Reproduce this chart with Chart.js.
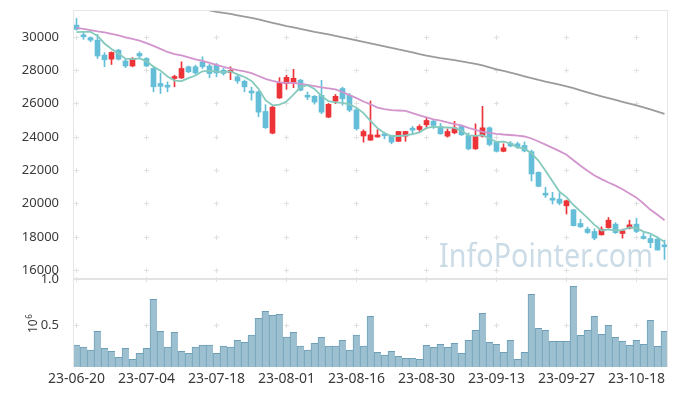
<!DOCTYPE html>
<html><head><meta charset="utf-8">
<script src="https://cdn.jsdelivr.net/npm/chart.js@4/dist/chart.umd.min.js"></script>
<style>
html,body{margin:0;padding:0;background:#fff;}
#wrap{position:relative;width:677px;height:396px;overflow:hidden;background:#fff;}
#price{position:absolute;left:0;top:0;}
#vol{position:absolute;left:0;top:260px;}
</style></head><body>
<div id="wrap"><canvas id="vol" width="677" height="136"></canvas><canvas id="price" width="677" height="280"></canvas></div>
<script>
const dates = ['23-06-20','23-06-21','23-06-22','23-06-23','23-06-26','23-06-27','23-06-28','23-06-29','23-06-30',
'23-07-03','23-07-04','23-07-05','23-07-06','23-07-07','23-07-10','23-07-11','23-07-12','23-07-13','23-07-14','23-07-17','23-07-18','23-07-19','23-07-20','23-07-21','23-07-24','23-07-25','23-07-26','23-07-27','23-07-28','23-07-31',
'23-08-01','23-08-02','23-08-03','23-08-04','23-08-07','23-08-08','23-08-09','23-08-10','23-08-11','23-08-14','23-08-16','23-08-17','23-08-18','23-08-21','23-08-22','23-08-23','23-08-24','23-08-25','23-08-28','23-08-29','23-08-30','23-08-31',
'23-09-01','23-09-04','23-09-05','23-09-06','23-09-07','23-09-08','23-09-11','23-09-12','23-09-13','23-09-14','23-09-15','23-09-18','23-09-19','23-09-20','23-09-21','23-09-22','23-09-25','23-09-26','23-09-27',
'23-10-04','23-10-05','23-10-06','23-10-10','23-10-11','23-10-12','23-10-13','23-10-16','23-10-17','23-10-18','23-10-19','23-10-20','23-10-23','23-10-24'];

const openP  = [30700,30100,29950,29800,28900,28660,29200,28550,28250,29000,28700,28100,27200,27100,27500,27530,28200,28200,28500,28250,28300,28000,27860,27600,27330,26750,26700,25520,24220,26330,27190,27270,27400,26500,26430,26490,25180,26140,26900,26500,25620,24050,23800,23990,24120,24080,23730,24040,24520,24440,24720,24940,24620,24040,24240,24620,24080,23280,24040,24540,23670,23130,23620,23580,23480,23110,21870,20560,20260,20260,19860,19620,18800,18460,18320,18120,18550,18760,18200,18520,18760,18000,17900,17860,17450];
const highP  = [31100,30300,30000,30150,29050,29100,29250,28700,28750,29100,28750,28200,27830,27300,27700,28500,28250,28300,28800,28350,28400,28100,28200,27700,27400,26980,26750,25930,25850,27550,27700,28050,27450,26690,26480,27390,26000,26540,26980,26600,25700,24420,26150,24430,24280,24100,24330,24330,24620,24720,25180,25050,24800,24470,24930,24700,24230,24780,25830,24600,23700,23580,23720,23680,23690,23200,21900,20970,20670,20630,20200,19650,19060,18580,18480,18600,19160,18850,18460,19000,19120,18250,18100,18000,17800];
const lowP   = [30400,29850,29700,28700,28200,28340,28600,28150,28200,28750,28200,26700,26600,26700,27000,27500,27850,27750,28100,27550,27600,27700,27430,27200,26700,26200,25200,24500,24180,26300,26850,26950,26750,26230,25960,25390,25150,25990,25900,25500,24400,23680,23780,23970,23880,23580,23720,23730,24120,24300,24480,24500,24150,23980,24180,24080,23220,23240,23980,23450,23080,23100,23400,23300,23100,21350,21000,20360,19970,19920,19370,18650,18560,18200,17820,18100,18520,18200,17920,18470,18250,17860,17350,17200,16650];
const closeP = [30450,30000,29800,28850,28620,29060,28660,28250,28700,28850,28250,27000,27030,26980,27600,28100,27900,27830,28200,27800,27830,27800,27950,27350,27000,26630,25480,24550,25780,27230,27570,27510,26800,26380,26080,25480,25950,26430,26280,25600,24480,24320,24120,24080,24060,23680,24320,24320,24400,24620,24980,24680,24180,24320,24540,24120,23280,24020,24540,23540,23130,23340,23450,23380,23150,21770,21030,20500,20200,20020,20160,18670,18600,18260,17920,18460,19000,18250,18360,18720,18320,17900,17650,17210,17400];

const maShort = [30280,30290,30300,30050,29600,29270,29000,28690,28660,28700,28540,28210,27970,27620,27370,27340,27520,27680,27930,27970,27910,27890,27920,27750,27590,27350,26880,26200,25890,25930,26120,26530,26980,27100,26870,26450,26140,26060,26040,25950,25750,25420,24960,24520,24210,24050,24050,24090,24160,24270,24530,24600,24570,24560,24540,24370,24090,24060,24100,23900,23700,23710,23600,23370,23290,23020,22560,21970,21330,20700,20380,19910,19530,19140,18720,18380,18450,18380,18400,18560,18530,18310,18190,17960,17700];
const maMid = [30540,30470,30400,30320,30260,30180,30080,29970,29870,29770,29620,29460,29280,29090,28960,28880,28770,28640,28560,28440,28310,28190,28090,28000,27930,27820,27650,27480,27360,27260,27240,27230,27180,27110,27040,26960,26900,26840,26690,26500,26320,26120,25950,25750,25660,25600,25580,25560,25420,25290,25160,25050,24970,24860,24760,24680,24540,24420,24300,24230,24180,24140,24110,24070,24020,23900,23720,23530,23340,23140,22920,22590,22260,21960,21680,21460,21260,21070,20850,20600,20350,20000,19620,19320,18990];
const maLong = [null,null,null,null,null,null,null,null,null,null,null,null,null,null,null,null,31800,31730,31660,31580,31500,31440,31370,31290,31210,31130,31040,30940,30840,30740,30640,30560,30470,30390,30300,30220,30140,30050,29970,29880,29790,29700,29610,29520,29430,29340,29240,29150,29060,28960,28870,28790,28720,28660,28600,28530,28450,28380,28290,28160,28050,27950,27850,27740,27630,27520,27410,27310,27220,27130,27030,26920,26790,26660,26540,26430,26320,26210,26100,25990,25880,25760,25640,25510,25380];

const volumeM = [0.287,0.266,0.233,0.435,0.251,0.219,0.154,0.251,0.132,0.197,0.251,0.780,0.435,0.266,0.424,0.219,0.197,0.266,0.287,0.287,0.197,0.276,0.266,0.338,0.316,0.395,0.576,0.651,0.607,0.618,0.374,0.424,0.276,0.233,0.305,0.370,0.276,0.276,0.338,0.233,0.395,0.276,0.596,0.208,0.179,0.219,0.165,0.144,0.144,0.132,0.284,0.262,0.294,0.262,0.305,0.197,0.338,0.446,0.629,0.316,0.294,0.208,0.338,0.132,0.208,0.834,0.467,0.446,0.327,0.327,0.327,0.921,0.392,0.446,0.596,0.402,0.500,0.370,0.327,0.284,0.338,0.294,0.553,0.273,0.435];

const priceTicks = [16000,18000,20000,22000,24000,26000,28000,30000];
const volTicks = [0.5,1.0];
const dateLabelEvery = 10;

const FONT = '"Noto Sans", "DejaVu Sans", sans-serif';
const UP = '#ec3338', DOWN = '#64bed7';
const candleColors = closeP.map((c,i)=> c >= openP[i] ? UP : DOWN);
const bodies = openP.map((o,i)=>[o, closeP[i]]);
const wicks = lowP.map((l,i)=>[l, highP[i]]);
const gridIdx = dates.map((d,i)=>i).filter(i=> i % dateLabelEvery === 0);

function drawCross(ctx, x, y){
  ctx.beginPath();
  ctx.moveTo(x-2.5, y); ctx.lineTo(x+2.5, y);
  ctx.moveTo(x, y-2.5); ctx.lineTo(x, y+2.5);
  ctx.stroke();
}

const pricePlugin = {
  id: 'pricePlugin',
  beforeDatasetsDraw(chart){
    const {ctx, chartArea:a, scales:{x, y}} = chart;
    ctx.save();
    ctx.font = '33px ' + FONT;
    ctx.fillStyle = '#cbdce7';
    ctx.textBaseline = 'alphabetic';
    const txt = 'InfoPointer.com';
    const w = ctx.measureText(txt).width;
    ctx.translate(439, 267);
    ctx.scale(214 / w, 1);
    ctx.fillText(txt, 0, 0);
    ctx.restore();
    ctx.save();
    ctx.strokeStyle = '#e0e0e0';
    ctx.lineWidth = 1;
    gridIdx.forEach(i=>{
      const px = Math.floor(x.getPixelForValue(i)) + 0.5;
      priceTicks.forEach(v=>{
        const py = Math.round(y.getPixelForValue(v)) + 0.5;
        drawCross(ctx, px, py);
      });
    });
    ctx.restore();
  },
  afterDraw(chart){
    const {ctx, chartArea:a} = chart;
    ctx.save();
    ctx.strokeStyle = '#e6e6e6';
    ctx.lineWidth = 1;
    ctx.beginPath();
    ctx.moveTo(a.left, a.top + 0.5); ctx.lineTo(a.right, a.top + 0.5);
    ctx.moveTo(a.left + 0.5, a.top); ctx.lineTo(a.left + 0.5, a.bottom);
    ctx.moveTo(a.right - 0.5, a.top); ctx.lineTo(a.right - 0.5, a.bottom);
    ctx.stroke();
    ctx.fillStyle = '#e3e3e3';
    ctx.fillRect(a.left, a.bottom - 2, a.right - a.left, 2);
    ctx.restore();
  }
};

const volPlugin = {
  id: 'volPlugin',
  beforeDatasetsDraw(chart){
    const {ctx, scales:{x, y}} = chart;
    ctx.save();
    ctx.strokeStyle = '#e0e0e0';
    ctx.lineWidth = 1;
    gridIdx.forEach(i=>{
      const px = Math.floor(x.getPixelForValue(i)) + 0.5;
      volTicks.forEach(v=>{
        const py = Math.round(y.getPixelForValue(v)) + 0.5;
        drawCross(ctx, px, py);
      });
    });
    ctx.restore();
  },
  afterDraw(chart){
    const {ctx, chartArea:a} = chart;
    ctx.save();
    ctx.strokeStyle = '#e6e6e6';
    ctx.lineWidth = 1;
    ctx.beginPath();
    ctx.moveTo(a.left + 0.5, a.top); ctx.lineTo(a.left + 0.5, a.bottom);
    ctx.moveTo(a.right - 0.5, a.top); ctx.lineTo(a.right - 0.5, a.bottom);
    ctx.stroke();
    ctx.fillStyle = '#3a3a3a';
    ctx.translate(37, 66);
    ctx.rotate(-Math.PI/2);
    ctx.textBaseline = 'alphabetic';
    ctx.textAlign = 'left';
    ctx.font = '12px ' + FONT;
    ctx.fillText('10', -7, 0);
    const w10 = ctx.measureText('10').width;
    ctx.font = '8px ' + FONT;
    ctx.fillText('6', -7 + w10 + 0.5, -5);
    ctx.restore();
  }
};

Chart.defaults.font.family = FONT;

new Chart(document.getElementById('price'), {
  type: 'bar',
  data: {
    labels: dates,
    datasets: [
      {type:'line', data: maShort, borderColor:'#86cabe', borderWidth:1.8, pointRadius:0, tension:0, order:0},
      {type:'line', data: maMid, borderColor:'#d294cd', borderWidth:1.8, pointRadius:0, tension:0, order:0},
      {type:'line', data: maLong, borderColor:'#9b9b9b', borderWidth:1.8, pointRadius:0, tension:0, order:0, clip:0},
      {type:'bar', data: bodies, backgroundColor: candleColors, barThickness:5, grouped:false, minBarLength:2, borderWidth:0, order:1},
      {type:'bar', data: wicks, backgroundColor: candleColors, barThickness:1, grouped:false, borderWidth:0, order:2}
    ]
  },
  options: {
    responsive:false, animation:false, devicePixelRatio:1,
    layout:{padding:{top:10, right:9, bottom:0, left:0}},
    plugins:{legend:{display:false}, tooltip:{enabled:false}},
    scales:{
      x:{type:'category', offset:true, ticks:{display:false}, grid:{display:false}, border:{display:false},
         afterFit:s=>{s.height=0; s.paddingLeft=0; s.paddingRight=0;}},
      y:{min:15410, max:31608,
         afterBuildTicks:s=>{s.ticks = priceTicks.map(v=>({value:v}));},
         afterFit:s=>{s.width=73; s.paddingTop=0; s.paddingBottom=0;},
         ticks:{callback:v=>String(v), font:{size:13, family:FONT}, color:'#3a3a3a', padding:6},
         grid:{display:false}, border:{display:false}}
    }
  },
  plugins:[pricePlugin]
});

new Chart(document.getElementById('vol'), {
  type: 'bar',
  data: {
    labels: dates,
    datasets: [{data: volumeM, backgroundColor:'#9cc0d0', borderColor:'#6e9fb8',
      borderWidth:{top:1, left:1, right:0, bottom:0}, borderSkipped:false,
      barPercentage:1, categoryPercentage:1}]
  },
  options: {
    responsive:false, animation:false, devicePixelRatio:1,
    layout:{padding:{top:19, right:9, bottom:0, left:0}},
    plugins:{legend:{display:false}, tooltip:{enabled:false}},
    scales:{
      x:{type:'category', offset:true,
         ticks:{autoSkip:false, maxRotation:0, minRotation:0, font:{size:14, family:FONT}, color:'#3a3a3a', padding:-4,
                callback:(v,i)=> (i % dateLabelEvery === 0 ? dates[i] : '')},
         grid:{display:false}, border:{display:false},
         afterFit:s=>{s.height=29; s.paddingLeft=0; s.paddingRight=0;}},
      y:{min:0.05, max:1.0,
         afterBuildTicks:s=>{s.ticks = volTicks.map(v=>({value:v}));},
         afterFit:s=>{s.width=73; s.paddingTop=0; s.paddingBottom=0;},
         ticks:{callback:v=>Number(v).toFixed(1), font:{size:13, family:FONT}, color:'#3a3a3a', padding:6},
         grid:{display:false}, border:{display:false}}
    }
  },
  plugins:[volPlugin]
});
</script>
</body></html>
